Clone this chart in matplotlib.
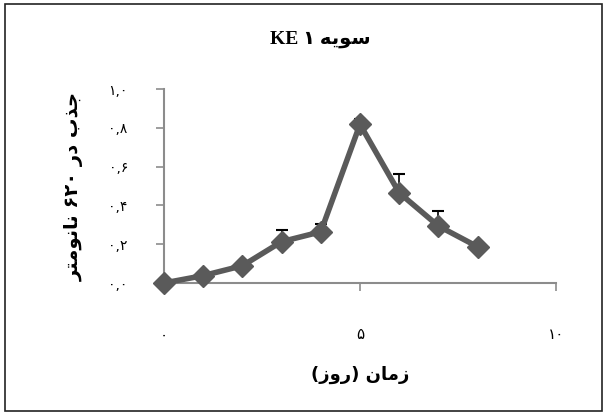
import matplotlib.pyplot as plt
from matplotlib.patches import Rectangle

# data (day, absorbance at 620 nm, upper error)
days = [0, 1, 2, 3, 4, 5, 6, 7, 8]
absorb = [0.0, 0.038, 0.089, 0.213, 0.264, 0.818, 0.465, 0.294, 0.187]
err_up = [0.0, 0.008, 0.0, 0.06, 0.04, 0.025, 0.095, 0.075, 0.0]

y_ticks = [0.0, 0.2, 0.4, 0.6, 0.8, 1.0]
y_tick_labels = ["۰,۰", "۰,۲", "۰,۴", "۰,۶", "۰,۸", "۱,۰"]
x_ticks = [0, 5, 10]
x_tick_labels = ["۰", "۵", "۱۰"]

# Persian text, pre-shaped (presentation forms, visual order)
title_txt = "KE ۱ " + "\uFEEA\uFBFE\uFEEE\uFEB3"
ylabel_txt = ("\uFEAE\uFE98\uFEE3\uFEEE\uFEE7\uFE8E\uFEE7 ۶۲۰ "
              "\uFEAD\uFEA9 \uFE8F\uFEAC\uFE9F")
xlabel_txt = "(\uFEAF\uFEED\uFEAD) \uFEE5\uFE8E\uFEE3\uFEAF"

arabic_font = ['DejaVu Sans']
serif_font = ['Liberation Serif', 'DejaVu Sans']

fig = plt.figure(figsize=(6.04, 4.16), dpi=100)
fig.patches.append(Rectangle((0.008, 0.012), 0.989, 0.978, transform=fig.transFigure,
                             fill=False, edgecolor='#222222', linewidth=1.2))

ax = fig.add_axes([0.2715, 0.3197, 0.649, 0.4663])

ax.errorbar(days, absorb, yerr=[[0] * len(err_up), err_up], fmt='none',
            ecolor='black', elinewidth=1.2, capsize=4, capthick=1.5, zorder=2)
ax.plot(days, absorb, color='#5a5a5a', linewidth=4, marker='D', markersize=11,
        markerfacecolor='#5a5a5a', markeredgecolor='#5a5a5a', zorder=3, clip_on=False)

ax.set_xlim(0, 10)
ax.set_ylim(0, 1.0)
ax.set_xticks(x_ticks)
ax.set_xticklabels(x_tick_labels, family=arabic_font, fontsize=11)
ax.set_yticks(y_ticks)
ax.set_yticklabels(y_tick_labels, family=arabic_font, fontsize=10)

for side in ['top', 'right']:
    ax.spines[side].set_visible(False)
for side in ['left', 'bottom']:
    ax.spines[side].set_color('#8c8c8c')
    ax.spines[side].set_linewidth(1.5)
ax.tick_params(axis='y', direction='out', length=6, width=1.2, color='#8c8c8c', pad=20)
ax.tick_params(axis='x', direction='out', length=6, width=1.2, color='#8c8c8c', pad=26)

ax.set_ylabel(ylabel_txt, family=arabic_font, fontsize=14, fontweight='bold', labelpad=18)
ax.set_xlabel(xlabel_txt, family=arabic_font, fontsize=13, fontweight='bold', labelpad=17)

fig.text(0.53, 0.905, title_txt, family=serif_font, fontsize=14, fontweight='bold',
         ha='center', va='center')

fig.savefig('out.png', dpi=100)
